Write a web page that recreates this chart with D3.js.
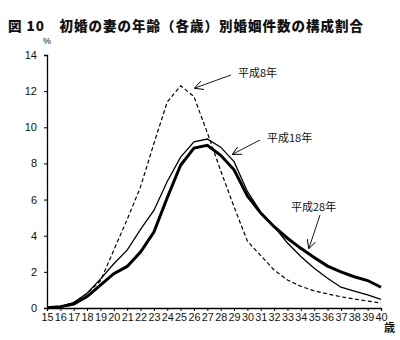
<!DOCTYPE html>
<html><head><meta charset="utf-8">
<script src="https://cdn.jsdelivr.net/npm/d3@7"></script>
<style>
body{margin:0;background:#fff;}
svg{display:block;}
text{font-family:"Liberation Sans",Arial,sans-serif;fill:#111;}
.cjk{font-family:"Noto Sans CJK JP",sans-serif;}
</style></head>
<body><svg id="c" width="400" height="340"></svg>
<script>
const ages = d3.range(15, 41);
const yTicks = [0,2,4,6,8,10,12,14];
const h8  = [0.02,0.08,0.3,0.8,1.5,3.2,4.9,6.7,9.1,11.4,12.3,11.7,9.7,7.6,5.6,3.7,2.9,2.1,1.55,1.2,0.95,0.78,0.62,0.5,0.38,0.28];
const h18 = [0.02,0.08,0.3,0.82,1.6,2.45,3.2,4.35,5.4,7.0,8.35,9.2,9.35,8.9,8.1,6.45,5.3,4.5,3.6,2.85,2.2,1.65,1.15,0.94,0.72,0.48];
const h28 = [0.01,0.07,0.22,0.63,1.27,1.9,2.3,3.1,4.2,6.1,7.9,8.85,9.0,8.45,7.65,6.2,5.25,4.5,3.86,3.3,2.8,2.32,2.0,1.73,1.52,1.15];
const seriesNames = ["平成8年","平成18年","平成28年"];

const svg = d3.select("#c");
const x = d3.scaleLinear().domain([15,40]).range([47,381]);
const y = d3.scaleLinear().domain([0,14]).range([308,55]);

svg.append("text").attr("class","cjk").attr("x",8).attr("y",31)
  .attr("font-size",13.5).attr("font-weight",900).attr("letter-spacing",1)
  .text("図 10　初婚の妻の年齢（各歳）別婚姻件数の構成割合");

const ya = svg.append("g").attr("transform","translate(47,0)")
  .call(d3.axisLeft(y).tickValues(yTicks).tickSize(3).tickPadding(7).tickFormat(d3.format("d")));
ya.select(".domain").attr("stroke","#000").attr("stroke-width",1.3);
ya.selectAll(".tick line").attr("stroke","#000");
ya.selectAll("text").attr("font-size",11).style("font-family","Liberation Sans, Arial");

const xa = svg.append("g").attr("transform","translate(0,308)")
  .call(d3.axisBottom(x).tickValues(ages).tickSize(3).tickPadding(3).tickFormat(d3.format("d")));
xa.select(".domain").attr("stroke","#000").attr("stroke-width",1.3);
xa.selectAll(".tick line").attr("stroke","#000");
xa.selectAll("text").attr("font-size",10).attr("textLength",12).attr("lengthAdjust","spacingAndGlyphs").style("font-family","Liberation Sans, Arial");

svg.append("text").attr("x",43).attr("y",44).attr("font-size",9).text("%");
svg.append("text").attr("class","cjk").attr("x",384).attr("y",332).attr("font-size",11).attr("font-weight",700).text("歳");

const line = d3.line().x((d,i)=>x(ages[i])).y(d=>y(d));
svg.append("path").datum(h8).attr("d",line).attr("fill","none").attr("stroke","#000").attr("stroke-width",1.2).attr("stroke-dasharray","4,2.5");
svg.append("path").datum(h18).attr("d",line).attr("fill","none").attr("stroke","#000").attr("stroke-width",1.3);
svg.append("path").datum(h28).attr("d",line).attr("fill","none").attr("stroke","#000").attr("stroke-width",3);

// annotations
svg.append("defs").append("marker").attr("id","ar").attr("viewBox","0 0 10 10").attr("refX",9).attr("refY",5)
  .attr("markerWidth",9).attr("markerHeight",9).attr("orient","auto").attr("markerUnits","userSpaceOnUse")
  .append("path").attr("d","M0,0 L10,5 L0,10").attr("fill","none").attr("stroke","#000").attr("stroke-width",1);
const ann = [
  {t:seriesNames[0], tx:238, ty:77, x1:231, y1:75, x2:195, y2:88},
  {t:seriesNames[1], tx:267, ty:142, x1:260, y1:140, x2:233, y2:154},
  {t:seriesNames[2], tx:291, ty:211, x1:320, y1:215, x2:309, y2:248}
];
ann.forEach(a=>{
  svg.append("text").attr("class","cjk").attr("x",a.tx).attr("y",a.ty).attr("font-size",11).text(a.t);
  svg.append("line").attr("x1",a.x1).attr("y1",a.y1).attr("x2",a.x2).attr("y2",a.y2)
    .attr("stroke","#000").attr("stroke-width",0.9).attr("marker-end","url(#ar)");
});
</script></body></html>
